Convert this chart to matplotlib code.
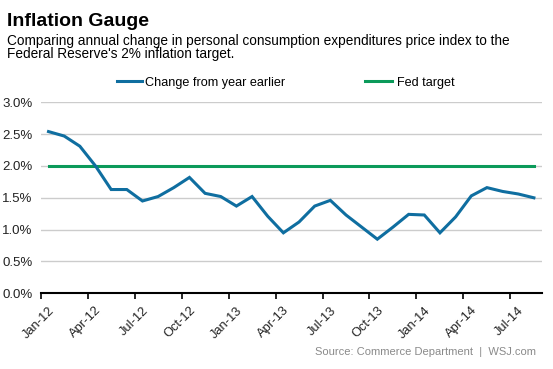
import numpy as np
import matplotlib
matplotlib.use("Agg")
import matplotlib.pyplot as plt

plt.rcParams["font.family"] = ["Liberation Sans", "DejaVu Sans"]

# monthly PCE change from year earlier, Jan-12 .. Aug-14 (%)
months = ["Jan-12", "Feb-12", "Mar-12", "Apr-12", "May-12", "Jun-12", "Jul-12", "Aug-12",
          "Sep-12", "Oct-12", "Nov-12", "Dec-12", "Jan-13", "Feb-13", "Mar-13", "Apr-13",
          "May-13", "Jun-13", "Jul-13", "Aug-13", "Sep-13", "Oct-13", "Nov-13", "Dec-13",
          "Jan-14", "Feb-14", "Mar-14", "Apr-14", "May-14", "Jun-14", "Jul-14", "Aug-14"]
pce_change = [2.54, 2.47, 2.31, 2.00, 1.63, 1.63, 1.45, 1.52,
              1.66, 1.82, 1.57, 1.52, 1.37, 1.52, 1.21, 0.95,
              1.12, 1.37, 1.46, 1.23, 1.04, 0.85, 1.04, 1.24,
              1.23, 0.95, 1.20, 1.53, 1.66, 1.60, 1.56, 1.50]
fed_target = [2.0] * len(months)

tick_labels = ["Jan-12", "Apr-12", "Jul-12", "Oct-12", "Jan-13", "Apr-13", "Jul-13",
               "Oct-13", "Jan-14", "Apr-14", "Jul-14"]
y_ticks = [0.0, 0.5, 1.0, 1.5, 2.0, 2.5, 3.0]

blue = "#0f6ea0"
green = "#0b9a5a"

fig = plt.figure(figsize=(5.53, 3.69), dpi=100)
ax = fig.add_axes([0.0736, 0.2051, 0.906, 0.5177])

x = np.arange(len(months)) + 0.5  # points sit in the middle of each month
l1, = ax.plot(x, pce_change, color=blue, lw=2.2, solid_joinstyle="miter", zorder=3,
              label="Change from year earlier")
l2, = ax.plot(x, fed_target, color=green, lw=2.2, zorder=2, label="Fed target")

ax.set_xlim(0, 32)
ax.set_ylim(0, 3.0)
ax.set_yticks(y_ticks)
ax.set_yticklabels([f"{v:.1f}%" for v in y_ticks])
ax.yaxis.grid(True, color="#cccccc", lw=1)
ax.set_axisbelow(True)
ax.tick_params(axis="y", length=0, pad=6, labelsize=9.5, labelcolor="#222222")

# x ticks at the start of each quarter, labels placed by hand (rotated)
idx = [months.index(t) for t in tick_labels]
ax.set_xticks(idx)
ax.set_xticklabels([])
ax.tick_params(axis="x", direction="out", length=4, width=1.2, color="black")
for i, t in zip(idx, tick_labels):
    ax.annotate(t, xy=(i, 0), xycoords=("data", "axes fraction"),
                xytext=(8.5, -11), textcoords="offset points",
                rotation=45, ha="right", va="center", rotation_mode="anchor",
                fontsize=9.3, color="#222222")

for s in ["top", "right", "left"]:
    ax.spines[s].set_visible(False)
ax.spines["bottom"].set_linewidth(1.5)
ax.spines["bottom"].set_color("black")

leg_y = 1 - 82.7 / 369
fig.legend(handles=[l1], loc="center left", bbox_to_anchor=(117 / 553, leg_y),
           frameon=False, fontsize=9.1, handlelength=2.0, handletextpad=0.25,
           borderpad=0, borderaxespad=0)
fig.legend(handles=[l2], loc="center left", bbox_to_anchor=(365 / 553, leg_y),
           frameon=False, fontsize=9.1, handlelength=2.1, handletextpad=0.4,
           borderpad=0, borderaxespad=0)

fig.text(7 / 553, 1 - 26 / 369, "Inflation Gauge", fontsize=14, fontweight="bold",
         va="baseline", ha="left")
fig.text(7 / 553, 1 - 45 / 369,
         "Comparing annual change in personal consumption expenditures price index to the",
         fontsize=9.8, va="baseline", ha="left")
fig.text(7 / 553, 1 - 58 / 369, "Federal Reserve's 2% inflation target.",
         fontsize=9.8, va="baseline", ha="left")
fig.text(536 / 553, 1 - 355 / 369, "Source: Commerce Department  |  WSJ.com",
         fontsize=8, color="#8a8a8a", ha="right", va="baseline")

fig.savefig("out.png", dpi=100)
